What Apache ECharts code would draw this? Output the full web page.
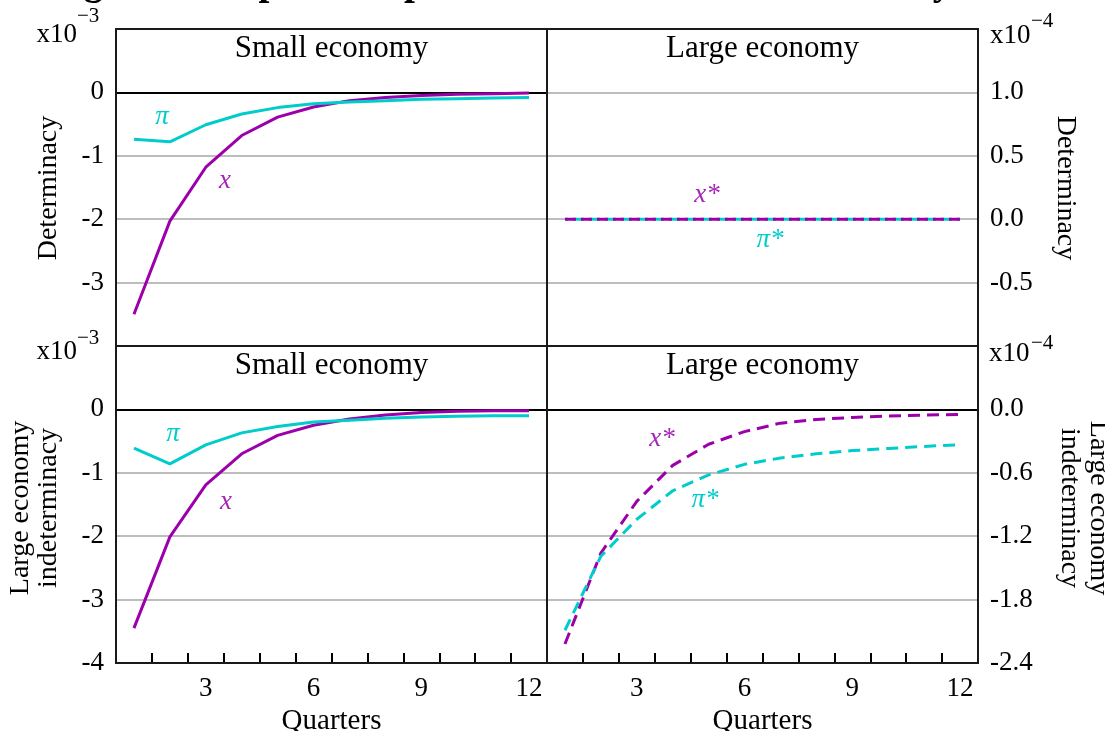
<!DOCTYPE html>
<html><head><meta charset="utf-8">
<script src="https://cdn.jsdelivr.net/npm/echarts@6/dist/echarts.min.js"></script>
<style>html,body{margin:0;padding:0;background:#fff}#c{width:1105px;height:731px}</style>
</head><body><div id="c"></div>
<script>
// ---------- data ----------
const quarters = ['1','2','3','4','5','6','7','8','9','10','11','12'];
const xTickLabels = ['3','6','9','12'];
// Determinacy, small economy (x10^-3)
const detSmallX  = [-3.50, -2.03, -1.18, -0.68, -0.39, -0.23, -0.13, -0.08, -0.05, -0.03, -0.02, -0.01];
const detSmallPi = [-0.74, -0.78, -0.51, -0.34, -0.24, -0.18, -0.15, -0.13, -0.11, -0.10, -0.09, -0.08];
// Determinacy, large economy (x10^-4)
const detLargeX  = [0, 0, 0, 0, 0, 0, 0, 0, 0, 0, 0, 0];
const detLargePi = [0, 0, 0, 0, 0, 0, 0, 0, 0, 0, 0, 0];
// Large economy indeterminacy, small economy (x10^-3)
const indSmallX  = [-3.45, -2.01, -1.19, -0.70, -0.41, -0.25, -0.15, -0.09, -0.05, -0.03, -0.02, -0.02];
const indSmallPi = [-0.61, -0.86, -0.56, -0.37, -0.27, -0.20, -0.17, -0.14, -0.12, -0.11, -0.10, -0.10];
// Large economy indeterminacy, large economy (x10^-4)
const indLargeX  = [-2.22, -1.36, -0.87, -0.53, -0.33, -0.21, -0.13, -0.095, -0.076, -0.063, -0.054, -0.047];
const indLargePi = [-2.09, -1.39, -1.04, -0.77, -0.62, -0.52, -0.46, -0.42, -0.39, -0.37, -0.35, -0.335];
const panelTitles = ['Small economy', 'Large economy', 'Small economy', 'Large economy'];
const rowNames = ['Determinacy', 'Large economy\nindeterminacy'];

// ---------- style ----------
const PURPLE = '#9c00aa', CYAN = '#00cccc';
const PURPLE_T = '#a626b8';
const SERIF = "'Liberation Serif','Times New Roman',serif";
const GRID_COLOR = '#bdbdbd';

const grids = [
  {left:116, top:29, width:431, height:317},
  {left:547, top:29, width:431, height:317},
  {left:116, top:346, width:431, height:317},
  {left:547, top:346, width:431, height:317}
].map(g => Object.assign(g, {show:true, borderColor:'#1a1a1a', borderWidth:2, backgroundColor:'transparent',
  z:3, containLabel:false, outerBoundsMode:'none'}));

function xAxis(gi, showLabels) {
  return {
    type:'category', gridIndex:gi, data:quarters, boundaryGap:true,
    axisLine:{show:false, onZero:false},
    axisTick:{show:showLabels, inside:true, length:10, interval:0, lineStyle:{color:'#000', width:2}},
    axisLabel:{show:showLabels, interval:(i, v) => xTickLabels.includes(v), margin:12,
      fontFamily:SERIF, fontSize:27, color:'#000'},
    splitLine:{show:false},
    name: showLabels ? 'Quarters' : '', nameLocation:'middle', nameGap:44,
    nameTextStyle:{fontFamily:SERIF, fontSize:29, color:'#000'}
  };
}
function fmt1(v){ if (Math.abs(v) < 1e-9) v = 0; return v.toFixed(1); }
function yAxis(gi, pos, min, max, interval, showMin, formatter) {
  return {
    type:'value', gridIndex:gi, position:pos, min, max, interval,
    axisLine:{show:false, onZero:false}, axisTick:{show:false},
    axisLabel:{showMinLabel:showMin, showMaxLabel:false, margin:12,
      fontFamily:SERIF, fontSize:27, color:'#000', formatter},
    splitLine:{show:true, lineStyle:{color:GRID_COLOR, width:2}}
  };
}
const zeroLine = {silent:true, symbol:'none', z:1, label:{show:false},
  lineStyle:{color:'#000', width:2, type:'solid'}, data:[{yAxis:0}]};

function line(gi, data, color, dash, extra) {
  return Object.assign({
    type:'line', xAxisIndex:gi, yAxisIndex:gi, data, showSymbol:false, symbol:'none',
    lineStyle:{color, width:3, type:dash || 'solid'}, itemStyle:{color}, animation:false, z:4
  }, extra || {});
}

const series = [
  line(0, detSmallX, PURPLE, null, {markLine:zeroLine}),
  line(0, detSmallPi, CYAN),
  line(1, detLargePi, CYAN, [11,5], {lineStyle:{color:CYAN, width:3, type:[11,5], dashOffset:8}}),
  line(1, detLargeX, PURPLE, [11,5]),
  line(2, indSmallX, PURPLE, null, {markLine:zeroLine}),
  line(2, indSmallPi, CYAN),
  line(3, indLargeX, PURPLE, [12,7], {markLine:zeroLine}),
  line(3, indLargePi, CYAN, [12,7])
];

function txt(x, y, text, size, opts) {
  opts = opts || {};
  return {
    type:'text', x, y, rotation: opts.rot || 0, z:10, silent:true,
    style:{text, fill: opts.color || '#000',
      font: (opts.italic ? 'italic ' : '') + (opts.bold ? 'bold ' : '') + size + 'px ' + SERIF,
      align: opts.align || 'center', verticalAlign: opts.va || 'middle',
      textAlign: opts.align || 'center', textVerticalAlign: opts.va || 'middle',
      lineHeight: opts.lh}
  };
}

const graphics = [
  txt(49, -16, 'Figure 3: Impulse responses to a shock in the economy', 39, {bold:true, align:'left'}),
  // panel titles
  txt(331.5, 48.5, panelTitles[0], 31), txt(762.5, 48.5, panelTitles[1], 31),
  txt(331.5, 365.5, panelTitles[2], 31), txt(762.5, 365.5, panelTitles[3], 31),
  // scale factors
  txt(77, 34.5, 'x10', 27, {align:'right'}), txt(77, 16.5, '\u22123', 21, {align:'left'}),
  txt(77, 352, 'x10', 27, {align:'right'}), txt(77, 338, '\u22123', 21, {align:'left'}),
  txt(990, 35.5, 'x10', 27, {align:'left'}), txt(1031, 21, '\u22124', 21, {align:'left'}),
  txt(989, 353.5, 'x10', 27, {align:'left'}), txt(1031, 343, '\u22124', 21, {align:'left'}),
  // row names
  txt(48.5, 188, rowNames[0], 28, {rot:Math.PI/2}),
  txt(34.5, 508, rowNames[1], 28, {rot:Math.PI/2, lh:28}),
  txt(1065.5, 188, rowNames[0], 28, {rot:-Math.PI/2}),
  txt(1083.5, 508, rowNames[1], 28, {rot:-Math.PI/2, lh:29}),
  // series labels
  txt(162, 116.5, '\u03c0', 27, {italic:true, color:CYAN}),
  txt(225, 180.5, 'x', 27, {italic:true, color:PURPLE_T}),
  txt(707, 195, 'x*', 27, {italic:true, color:PURPLE_T}),
  txt(770, 240, '\u03c0*', 27, {italic:true, color:CYAN}),
  txt(173, 434, '\u03c0', 27, {italic:true, color:CYAN}),
  txt(226, 502, 'x', 27, {italic:true, color:PURPLE_T}),
  txt(662, 439, 'x*', 27, {italic:true, color:PURPLE_T}),
  txt(705, 500, '\u03c0*', 27, {italic:true, color:CYAN})
];

const chart = echarts.init(document.getElementById('c'), null, {renderer:'canvas'});
chart.setOption({
  animation:false,
  backgroundColor:'#fff',
  grid: grids,
  xAxis: [xAxis(0,false), xAxis(1,false), xAxis(2,true), xAxis(3,true)],
  yAxis: [
    yAxis(0, 'left', -4, 1, 1, false, v => String(v)),
    yAxis(1, 'right', -1, 1.5, 0.5, false, fmt1),
    yAxis(2, 'left', -4, 1, 1, true, v => String(v)),
    yAxis(3, 'right', -2.4, 0.6, 0.6, true, fmt1)
  ],
  series,
  graphic: graphics
});
</script></body></html>
